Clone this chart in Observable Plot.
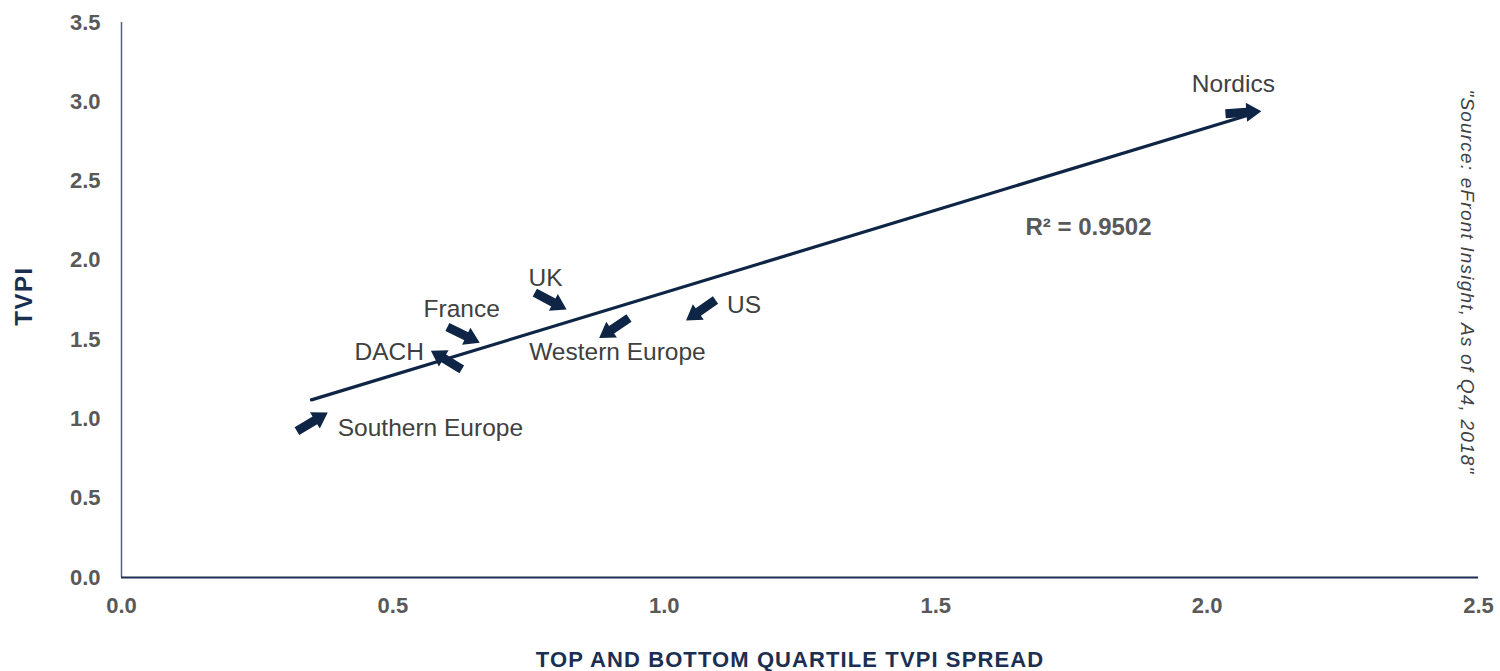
<!DOCTYPE html>
<html><head><meta charset="utf-8">
<script src="https://cdn.jsdelivr.net/npm/d3@7"></script>
<script src="https://cdn.jsdelivr.net/npm/@observablehq/plot@0.6"></script>
<style>
html,body{margin:0;padding:0;background:#fff;}
#chart svg{display:block;}
</style></head><body><div id="chart"></div>
<script>
// ---- data ----
const regions = ["Southern Europe", "DACH", "France", "UK", "Western Europe", "US", "Nordics"];
const spread  = [0.38, 0.57, 0.66, 0.82, 0.88, 1.04, 2.10];
const tvpi    = [1.04, 1.43, 1.48, 1.69, 1.51, 1.62, 2.94];
const trendX  = [0.35, 2.08];
const trendY  = [1.12, 2.92];
const xTicks  = [0, 0.5, 1, 1.5, 2, 2.5];
const yTicks  = [0, 0.5, 1, 1.5, 2, 2.5, 3, 3.5];
const r2Text  = "R² = 0.9502";
const xTitle  = "TOP AND BOTTOM QUARTILE TVPI SPREAD";
const yTitle  = "TVPI";
const sourceText = "\"Source: eFront Insight, As of Q4, 2018\"";

const points = regions.map((r, i) => ({region: r, x: spread[i], y: tvpi[i]}));
const trend = trendX.map((x, i) => ({x, y: trendY[i]}));

// ---- styles ----
const NAVY = "#0e2545";
const TITLE = "#1b2f52";
const LABEL = "#404040";
const TICK = "#595959";
const FONT = "'Liberation Sans', Arial, sans-serif";
const look = {
  "Southern Europe": {rotate: 59,   dx: 10,  dy: 16,  anchor: "start"},
  "DACH":            {rotate: -59,  dx: -7,  dy: 1,   anchor: "end"},
  "France":          {rotate: 116,  dx: -18, dy: -34, anchor: "middle"},
  "UK":              {rotate: 118,  dx: -21, dy: -31, anchor: "middle"},
  "Western Europe":  {rotate: -124, dx: -70, dy: 14,  anchor: "start"},
  "US":              {rotate: -125, dx: 41,  dy: -15, anchor: "start"},
  "Nordics":         {rotate: 86,   dx: -28, dy: -27, anchor: "middle"}
};
const spacing = {[xTitle]: "1.1px", [yTitle]: "1.5px", [sourceText]: "1.2px"};

const blockArrow = {
  draw(ctx, l) {
    const w = 4.5, hw = 9.5, hl = 15;
    ctx.moveTo(-w, 0);
    ctx.lineTo(-w, -(l - hl));
    ctx.lineTo(-hw, -(l - hl));
    ctx.lineTo(0, -l);
    ctx.lineTo(hw, -(l - hl));
    ctx.lineTo(w, -(l - hl));
    ctx.lineTo(w, 0);
    ctx.closePath();
  }
};

const labelMarks = regions.map(r => Plot.text(points.filter(d => d.region === r), {
  x: "x", y: "y", text: "region",
  dx: look[r].dx, dy: look[r].dy, textAnchor: look[r].anchor,
  fontSize: 24.5, fill: LABEL
}));

const chart = Plot.plot({
  width: 1500,
  height: 671,
  marginLeft: 121,
  marginRight: 22,
  marginTop: 22,
  marginBottom: 94,
  style: {fontFamily: FONT, background: "#fff"},
  x: {domain: [0, 2.5]},
  y: {domain: [0, 3.5]},
  marks: [
    Plot.axisX(xTicks, {tickSize: 0, tickPadding: 20, tickFormat: d3.format(".1f"), fontSize: 22, fontWeight: "bold", fill: TICK, label: null}),
    Plot.axisY(yTicks, {tickSize: 0, tickPadding: 21, tickFormat: d3.format(".1f"), fontSize: 22, fontWeight: "bold", fill: TICK, label: null}),
    Plot.ruleX([0], {stroke: "#56627a", strokeWidth: 1.5}),
    Plot.ruleY([0], {stroke: TITLE, strokeWidth: 2}),
    Plot.line(trend, {x: "x", y: "y", stroke: NAVY, strokeWidth: 3.2}),
    Plot.vector(points, {
      x: "x", y: "y", rotate: d => look[d.region].rotate,
      length: 36, anchor: "end", shape: blockArrow, fill: NAVY, stroke: "none"
    }),
    ...labelMarks,
    Plot.text([r2Text], {frameAnchor: "top-left", dx: 967, dy: 205, textAnchor: "middle", lineAnchor: "middle", fontWeight: "bold", fontSize: 24, fill: TICK}),
    Plot.text([yTitle], {frameAnchor: "left", rotate: -90, dx: -97, dy: -4, textAnchor: "middle", lineAnchor: "middle", fontWeight: "bold", fontSize: 24, fill: TITLE}),
    Plot.text([xTitle], {frameAnchor: "bottom", dx: -10, dy: 82, textAnchor: "middle", lineAnchor: "middle", fontWeight: "bold", fontSize: 22, fill: TITLE}),
    Plot.text([sourceText], {frameAnchor: "right", rotate: 90, dx: -11, dy: -18, textAnchor: "middle", lineAnchor: "middle", fontStyle: "italic", fontSize: 19, fill: LABEL})
  ]
});
d3.select(chart).selectAll("text")
  .filter(function () { return spacing[this.textContent] != null; })
  .style("letter-spacing", function () { return spacing[this.textContent]; });
document.getElementById("chart").appendChild(chart);
</script>
</body></html>
